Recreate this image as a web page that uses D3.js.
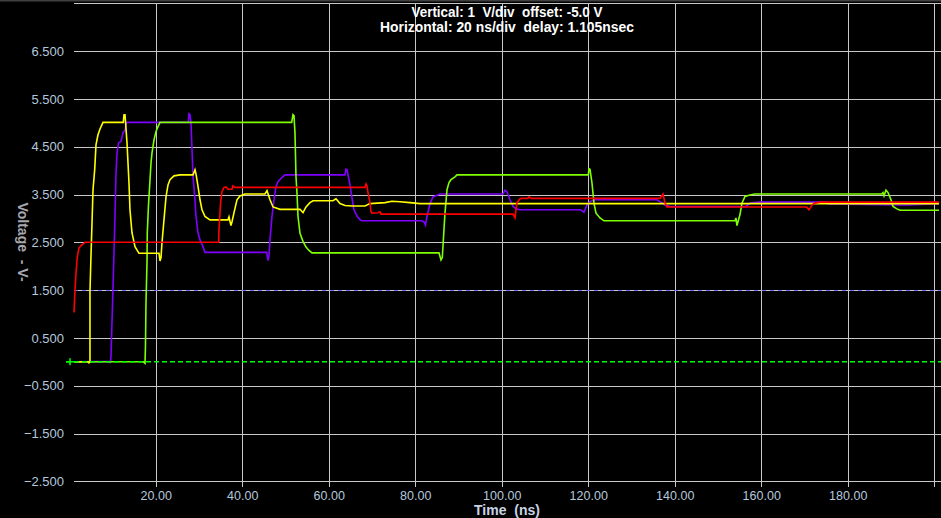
<!DOCTYPE html>
<html><head><meta charset="utf-8">
<script src="https://cdn.jsdelivr.net/npm/d3@7"></script>
<style>
html,body{margin:0;padding:0;background:#000;overflow:hidden}
svg{display:block}
text{white-space:pre}
</style></head>
<body>
<script>
// ---- data (time in ns, voltage in V) ----
const titleLines = ["Vertical: 1  V/div  offset: -5.0 V", "Horizontal: 20 ns/div  delay: 1.105nsec"];
const xTicks = [20, 40, 60, 80, 100, 120, 140, 160, 180, 200];
const yTicks = [-2.5, -1.5, -0.5, 0.5, 1.5, 2.5, 3.5, 4.5, 5.5, 6.5, 7.5];
const yLabelTicks = [-2.5, -1.5, -0.5, 0.5, 1.5, 2.5, 3.5, 4.5, 5.5, 6.5];
const xDomain = [1.105, 201.105];
const yDomain = [-2.625, 7.5];
const zeroMarker = 0;
const refLevel = 1.5;

const purpleTrace = [[1.105,0.00],[9.43,0.01],[9.5,-0.03],[9.66,0.11],[9.89,0.84],[10.24,1.92],[10.58,3.04],[10.82,3.95],[11.05,4.37],[11.40,4.58],[11.97,4.61],[12.43,4.79],[12.90,4.85],[13.13,4.96],[13.36,5.01],[27.53,5.01],[27.69,5.19],[27.92,5.17],[28.15,5.00],[28.39,4.44],[28.62,3.88],[29.08,3.39],[29.31,3.04],[29.78,2.70],[30.24,2.55],[30.93,2.41],[31.39,2.29],[45.66,2.29],[45.96,2.12],[46.19,2.22],[46.42,2.55],[46.88,3.04],[47.35,3.39],[47.81,3.67],[48.27,3.77],[49.20,3.86],[49.89,3.91],[63.76,3.91],[63.99,4.03],[64.23,4.02],[64.92,3.70],[65.38,3.43],[65.84,3.18],[66.54,3.05],[67.23,2.97],[67.69,2.95],[81.50,2.95],[82.0,2.93],[82.37,2.86],[82.72,3.04],[83.42,3.31],[84.11,3.45],[85.73,3.51],[100.29,3.51],[100.76,3.59],[101.22,3.56],[101.91,3.39],[102.61,3.25],[103.30,3.20],[104.23,3.18],[118.10,3.18],[118.56,3.16],[119.02,3.13],[119.71,3.28],[120.41,3.35],[121.56,3.39],[135.83,3.39],[136.59,3.35],[137.75,3.28],[138.90,3.25],[156.48,3.25],[157.40,3.32],[159.71,3.34],[174.98,3.34],[175.44,3.30],[193.24,3.28],[201.1,3.31]];

const greenTrace = [[1.105,0.00],[17.13,0.00],[17.52,-0.03],[17.63,0.32],[17.75,1.23],[17.98,2.06],[18.05,2.70],[18.33,3.28],[18.68,3.81],[18.91,4.16],[19.14,4.37],[19.60,4.64],[20.07,4.82],[20.53,4.92],[20.99,5.01],[51.44,5.01],[51.74,5.17],[51.97,5.15],[52.20,4.79],[52.43,3.88],[52.66,3.53],[52.90,3.04],[53.36,2.69],[54.05,2.52],[54.75,2.40],[55.44,2.33],[56.13,2.28],[85.50,2.28],[85.96,2.13],[86.26,2.18],[86.88,3.11],[87.35,3.60],[87.81,3.75],[88.27,3.81],[89.20,3.87],[89.66,3.91],[120.02,3.91],[120.18,4.04],[120.41,4.03],[120.87,3.74],[121.33,3.32],[121.80,3.11],[122.72,3.01],[123.65,2.95],[153.93,2.95],[154.16,3.01],[154.39,2.85],[155.09,3.08],[155.55,3.32],[156.24,3.46],[157.40,3.49],[158.56,3.51],[187.86,3.51],[188.16,3.54],[188.39,3.47],[188.85,3.59],[189.32,3.54],[190.01,3.39],[190.47,3.25],[191.39,3.20],[192.09,3.17],[201.1,3.17]];

const yellowTrace = [[1.105,0.00],[4.34,0.00],[4.57,-0.02],[4.80,0.00],[4.80,1.46],[5.04,2.24],[5.27,2.91],[5.50,3.60],[5.89,4.02],[6.19,4.54],[6.65,4.75],[7.12,4.87],[7.81,5.01],[12.50,5.01],[12.67,5.17],[12.90,5.17],[13.36,4.58],[13.82,3.74],[14.05,3.18],[14.51,2.70],[15.21,2.41],[16.13,2.27],[20.76,2.27],[20.99,2.11],[21.22,2.18],[21.45,2.49],[21.91,2.97],[22.38,3.45],[22.84,3.70],[23.30,3.81],[24.23,3.89],[25.61,3.91],[28.62,3.91],[29.08,4.02],[29.31,3.93],[29.78,3.67],[30.24,3.39],[30.70,3.18],[31.39,3.04],[32.55,2.97],[36.71,2.97],[36.94,3.03],[37.40,2.85],[37.64,2.93],[38.10,3.12],[38.79,3.39],[39.49,3.47],[40.64,3.51],[45.27,3.51],[45.73,3.58],[46.42,3.39],[47.12,3.24],[48.73,3.19],[53.36,3.19],[54.05,3.12],[54.75,3.24],[55.67,3.33],[56.36,3.37],[60.99,3.37],[61.68,3.41],[62.61,3.31],[63.76,3.27],[65.38,3.26],[68.39,3.26],[69.54,3.31],[73.01,3.33],[74.63,3.36],[76.48,3.35],[78.79,3.33],[81.10,3.31],[201.1,3.31]];

const redTrace = [[1.105,1.03],[1.2,1.23],[1.34,1.51],[1.57,1.86],[1.80,2.13],[2.03,2.28],[2.26,2.38],[2.72,2.43],[3.65,2.50],[34.56,2.50],[34.63,2.76],[35.02,3.35],[35.32,3.56],[35.79,3.65],[36.25,3.66],[36.71,3.61],[37.64,3.61],[37.87,3.68],[38.33,3.65],[68.39,3.65],[68.62,3.72],[68.85,3.68],[69.08,3.54],[69.54,3.33],[69.77,3.14],[70.00,3.11],[71.40,3.12],[71.86,3.14],[72.09,3.09],[102.61,3.09],[103.07,3.01],[103.30,3.18],[103.53,3.33],[104.23,3.41],[104.69,3.42],[106.07,3.42],[106.31,3.45],[106.77,3.42],[136.59,3.42],[137.29,3.51],[137.75,3.33],[138.21,3.24],[170.51,3.24],[171.04,3.18],[171.74,3.28],[172.43,3.32],[173.59,3.34],[201.1,3.34]];

const traceNames = ["purple", "green", "yellow", "red"];
const traceColors = ["#8000ff", "#80ff00", "#ffff00", "#ff0000"];
const traceData = [purpleTrace, greenTrace, yellowTrace, redTrace];

// ---- layout ----
const W = 941, H = 518;
const plot = {left: 74, right: 939, top: 3.3, bottom: 487.3};

const svg = d3.select("body").append("svg").attr("width", W).attr("height", H)
  .style("background", "#000");

const x = d3.scaleLinear().domain(xDomain).range([plot.left, plot.right]);
const y = d3.scaleLinear().domain(yDomain).range([plot.bottom, plot.top]);

// top dark bar
svg.append("rect").attr("x", 0).attr("y", 0).attr("width", W).attr("height", 1.5).attr("fill", "#404040");

// y grid + labels
const gy = svg.append("g").attr("transform", `translate(${plot.left},0)`)
  .call(d3.axisLeft(y).tickValues(yTicks).tickSize(-(W - plot.left)).tickPadding(10)
    .tickFormat(d => yLabelTicks.includes(d) ? d3.format(".3f")(d) : ""));
gy.select(".domain").remove();
gy.selectAll(".tick line").attr("stroke", "#c8c8c8").attr("shape-rendering", "crispEdges");
gy.selectAll(".tick text").attr("fill", "#b4c8dc").attr("font-family", "Arial, 'Liberation Sans', sans-serif").attr("font-size", 13);

// x grid + labels
const gx = svg.append("g").attr("transform", `translate(0,${plot.bottom})`)
  .call(d3.axisBottom(x).tickValues(xTicks).tickSize(-(plot.bottom - plot.top)).tickPadding(3.5)
    .tickFormat(d => d === 200 ? "" : d3.format(".2f")(d)));
gx.select(".domain").remove();
gx.selectAll(".tick line").attr("stroke", "#c8c8c8").attr("shape-rendering", "crispEdges");
gx.selectAll(".tick text").attr("fill", "#b4c8dc").attr("font-family", "'Liberation Sans Narrow', 'Arial Narrow', sans-serif").attr("font-size", 12.5);

// reference lines
svg.append("line").attr("x1", plot.left).attr("x2", W).attr("y1", y(refLevel)).attr("y2", y(refLevel))
  .attr("stroke", "#7070ff").attr("stroke-dasharray", "4,4").attr("shape-rendering", "crispEdges");

// traces
const line = d3.line().x(d => x(d[0])).y(d => y(d[1]));
svg.append("g").selectAll("path").data(traceData).join("path")
  .attr("d", line).attr("fill", "none")
  .attr("stroke", (d, i) => traceColors[i]).attr("stroke-width", 1.6)
  .attr("stroke-linejoin", "miter");

// zero marker line
svg.append("line").attr("x1", 66).attr("x2", W).attr("y1", y(zeroMarker)).attr("y2", y(zeroMarker))
  .attr("stroke", "#00ff00").attr("stroke-width", 1.5).attr("stroke-dasharray", "5,3");
svg.append("path").attr("d", `M66,${y(zeroMarker)}H75M70,${y(zeroMarker)-3.5}V${y(zeroMarker)+3.5}`)
  .attr("stroke", "#00ff00").attr("stroke-width", 1.5).attr("fill", "none");

// titles
const tf = "'Liberation Sans Narrow', 'Arial Narrow', sans-serif";
svg.append("text").attr("x", 507).attr("y", 16.5).attr("text-anchor", "middle")
  .attr("fill", "#fff").attr("font-family", tf).attr("font-size", 14).attr("font-weight", "bold")
  .attr("textLength", 191).attr("lengthAdjust", "spacingAndGlyphs").text(titleLines[0]);
svg.append("text").attr("x", 507).attr("y", 31.5).attr("text-anchor", "middle")
  .attr("fill", "#fff").attr("font-family", tf).attr("font-size", 14).attr("font-weight", "bold")
  .attr("textLength", 254).attr("lengthAdjust", "spacingAndGlyphs").text(titleLines[1]);

// axis titles
svg.append("text").attr("x", 507).attr("y", 515).attr("text-anchor", "middle")
  .attr("fill", "#c8d4e4").attr("font-family", tf).attr("font-size", 14).attr("font-weight", "bold")
  .text("Time  (ns)");
svg.append("text").attr("transform", "translate(18,242) rotate(90)").attr("text-anchor", "middle")
  .attr("fill", "#a8a8b0").attr("font-family", "Arial, 'Liberation Sans', sans-serif").attr("font-size", 14).attr("font-weight", "bold")
  .text("Voltage  - V-");
</script>
</body></html>
